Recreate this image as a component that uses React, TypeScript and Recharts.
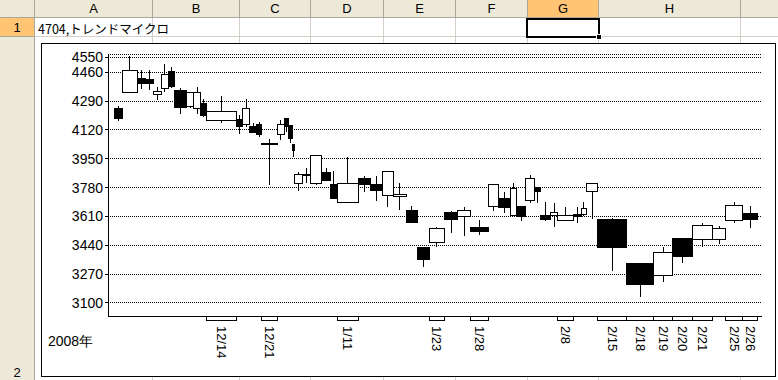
import React from 'react';
import { ComposedChart, Line, XAxis, YAxis, CartesianGrid, ReferenceArea, ReferenceLine } from 'recharts';

// daily prices, 2007/11/29 - 2008/02/26 (width of each candle = volume)
const dates = [
  '11/29', '11/30', '12/3', '12/4', '12/5', '12/6', '12/7', '12/10', '12/11', '12/12',
  '12/13', '12/14', '12/17', '12/18', '12/19', '12/20', '12/21', '12/25', '12/26', '12/27',
  '12/28', '1/4', '1/7', '1/8', '1/9', '1/10', '1/11', '1/15', '1/16', '1/17',
  '1/18', '1/21', '1/22', '1/23', '1/24', '1/25', '1/28', '1/29', '1/30', '1/31',
  '2/1', '2/4', '2/5', '2/6', '2/7', '2/8', '2/12', '2/13', '2/14', '2/15',
  '2/18', '2/19', '2/20', '2/21', '2/22', '2/25', '2/26',
];
const opens = [
  4248, 4342, 4424, 4420, 4330, 4366, 4467, 4355, 4257, 4248,
  4277, 4175, 4179, 4153, 4139, 4153, 4042, 4094, 4185, 4145,
  4036, 3806, 3853, 3806, 3871, 3800, 3694, 3835, 3800, 3735,
  3727, 3648, 3429, 3458, 3635, 3609, 3546, 3668, 3717, 3615,
  3668, 3703, 3782, 3615, 3613, 3585, 3619, 3623, 3756, 3595,
  3330, 3261, 3482, 3472, 3472, 3585, 3625,
];
const highs = [
  4261, 4556, 4473, 4473, 4375, 4507, 4493, 4366, 4345, 4371,
  4301, 4320, 4208, 4302, 4163, 4165, 4065, 4179, 4190, 4149,
  4038, 3871, 3894, 3968, 3894, 3878, 3962, 3849, 3849, 3876,
  3806, 3672, 3432, 3545, 3640, 3668, 3589, 3800, 3756, 3806,
  3670, 3855, 3785, 3697, 3688, 3664, 3664, 3694, 3804, 3598,
  3330, 3429, 3485, 3574, 3554, 3697, 3672,
];
const lows = [
  4173, 4340, 4361, 4356, 4297, 4346, 4369, 4212, 4248, 4212,
  4198, 4163, 4094, 4139, 4100, 4080, 3796, 4061, 4110, 4041,
  3963, 3760, 3806, 3796, 3818, 3710, 3694, 3756, 3701, 3668,
  3648, 3574, 3311, 3432, 3515, 3495, 3501, 3642, 3632, 3615,
  3585, 3691, 3691, 3585, 3546, 3585, 3570, 3615, 3594, 3291,
  3137, 3222, 3338, 3429, 3448, 3574, 3540,
];
const closes = [
  4185, 4469, 4393, 4395, 4344, 4450, 4375, 4251, 4342, 4342,
  4204, 4230, 4139, 4248, 4106, 4094, 4032, 4153, 4139, 4071,
  3998, 3855, 3857, 3968, 3821, 3713, 3806, 3800, 3762, 3876,
  3741, 3574, 3358, 3540, 3594, 3648, 3521, 3800, 3664, 3776,
  3609, 3835, 3756, 3594, 3635, 3615, 3609, 3658, 3802, 3426,
  3206, 3399, 3373, 3554, 3540, 3672, 3594,
];
const volumes = [
  83, 147, 80, 83, 80, 70, 60, 124, 66, 74,
  60, 300, 60, 66, 74, 46, 162, 68, 44, 36,
  24, 80, 80, 110, 86, 72, 208, 120, 120, 110,
  130, 107, 125, 148, 134, 126, 184, 100, 120, 60,
  90, 86, 60, 104, 66, 160, 77, 57, 106, 294,
  268, 192, 200, 196, 134, 166, 154,
];
const labeledDates = ['12/14', '12/21', '1/11', '1/23', '1/28', '2/8', '2/15', '2/18', '2/19', '2/20', '2/21', '2/25', '2/26'];
const yTicks = [3100, 3270, 3440, 3610, 3780, 3950, 4120, 4290, 4460, 4550];
const title = '4704,トレンドマイクロ';
const yearLabel = '2008年';

const columns = [
  { name: 'A', w: 118 },
  { name: 'B', w: 87 },
  { name: 'C', w: 71 },
  { name: 'D', w: 73 },
  { name: 'E', w: 72 },
  { name: 'F', w: 72 },
  { name: 'G', w: 71 },
  { name: 'H', w: 142 },
  { name: '', w: 100 },
];

let acc = 0;
const candles = dates.map((date, i) => {
  const start = acc;
  acc += volumes[i];
  return {
    date,
    open: opens[i],
    high: highs[i],
    low: lows[i],
    close: closes[i],
    start,
    end: acc,
    mid: start + volumes[i] / 2,
  };
});
const labeled = candles.filter((c) => labeledDates.includes(c.date));

const Y_MIN = 3023;
const Y_MAX = 4568;
const FONT = '"Liberation Sans", Arial, sans-serif';
const HEAD_BG = '#ECE9D8';
const HEAD_LINE = '#ACA899';
const GRID = '#D4D0C8';
const SEL = '#FFC474';

const XTick = (props: any) => {
  const { x, y, payload } = props;
  const c = labeled.find((d) => d.mid === payload.value);
  return (
    <g transform={`translate(${x},${y + 10}) rotate(90)`}>
      <text x={0} y={0} dominantBaseline="central" fontSize={13} fontFamily={FONT} fill="#000">
        {c ? c.date : ''}
      </text>
    </g>
  );
};

const Sheet = () => {
  let left = 35;
  const cols = columns.map((c) => {
    const el = { ...c, left };
    left += c.w;
    return el;
  });
  return (
    <>
      {/* corner */}
      <div style={{ position: 'absolute', left: 0, top: 0, width: 35, height: 18, background: HEAD_BG, boxSizing: 'border-box', borderRight: `1px solid ${HEAD_LINE}`, borderBottom: `1px solid ${HEAD_LINE}` }} />
      {cols.map((c, i) => (
        <div
          key={'h' + i}
          style={{
            position: 'absolute', left: c.left, top: 0, width: c.w, height: 18,
            background: c.name === 'G' ? SEL : HEAD_BG, boxSizing: 'border-box',
            borderRight: `1px solid ${HEAD_LINE}`, borderBottom: `1px solid ${HEAD_LINE}`,
            font: `13px ${FONT}`, textAlign: 'center', lineHeight: '18px', color: '#000',
          }}
        >
          {c.name}
        </div>
      ))}
      {cols.map((c, i) => (
        <div key={'v' + i} style={{ position: 'absolute', left: c.left + c.w - 1, top: 18, width: 1, height: 362, background: GRID }} />
      ))}
      <div style={{ position: 'absolute', left: 35, top: 36, width: 743, height: 1, background: GRID }} />
      {/* row headers */}
      <div style={{ position: 'absolute', left: 0, top: 18, width: 35, height: 19, background: SEL, boxSizing: 'border-box', borderRight: `1px solid ${HEAD_LINE}`, borderBottom: `1px solid ${HEAD_LINE}`, font: `13px ${FONT}`, textAlign: 'center', lineHeight: '19px' }}>1</div>
      <div style={{ position: 'absolute', left: 0, top: 37, width: 35, height: 343, background: HEAD_BG, boxSizing: 'border-box', borderRight: `1px solid ${HEAD_LINE}` }}>
        <div style={{ position: 'absolute', left: 0, top: 328, width: 34, textAlign: 'center', font: `13px ${FONT}` }}>2</div>
      </div>
      <div style={{ position: 'absolute', left: 38, top: 19, height: 18, lineHeight: '18px', font: `12.5px "Noto Sans CJK JP", ${FONT}`, color: '#000', whiteSpace: 'nowrap' }}>{title}</div>
      {/* selected cell G1 */}
      <div style={{ position: 'absolute', left: 526, top: 18, width: 74, height: 20, border: '2px solid #000', boxSizing: 'border-box' }} />
      <div style={{ position: 'absolute', left: 596, top: 34, width: 6, height: 6, background: '#000', border: '1px solid #fff', boxSizing: 'border-box' }} />
    </>
  );
};

export default function App() {
  return (
    <div style={{ position: 'absolute', left: 0, top: 0, width: 778, height: 380, overflow: 'hidden', background: '#fff' }}>
      <Sheet />
      <div style={{ position: 'absolute', left: 41, top: 43, width: 735, height: 334, border: '1px solid #000', boxSizing: 'border-box', background: '#fff' }}>
        <ComposedChart width={733} height={332} data={candles} margin={{ top: 10, right: 13, bottom: 0, left: 0 }}>
          <CartesianGrid vertical={false} stroke="#000" strokeDasharray="1 1" shapeRendering="crispEdges" />
          <XAxis
            type="number"
            dataKey="mid"
            domain={[-60, acc + 43]}
            allowDataOverflow
            ticks={labeled.map((c) => c.mid)}
            tick={<XTick />}
            tickLine={false}
            tickSize={0}
            tickMargin={0}
            height={60}
            axisLine={{ stroke: '#000', shapeRendering: 'crispEdges' }}
            interval={0}
          />
          <YAxis
            type="number"
            domain={[Y_MIN, Y_MAX]}
            allowDataOverflow
            ticks={yTicks}
            interval={0}
            width={66}
            tickSize={3}
            tickMargin={2}
            tick={{ fontSize: 14, fill: '#000', fontFamily: FONT }}
            axisLine={{ stroke: '#000', shapeRendering: 'crispEdges' }}
            tickLine={{ stroke: '#000', shapeRendering: 'crispEdges' }}
          />
          <Line dataKey="close" stroke="none" dot={false} activeDot={false} isAnimationActive={false} />
          {candles.map((c) => (
            <ReferenceLine
              key={'hw' + c.date}
              segment={[{ x: c.mid, y: c.high }, { x: c.mid, y: Math.max(c.open, c.close) }]}
              stroke="#000"
              strokeWidth={1}
              shapeRendering="crispEdges"
            />
          ))}
          {candles.map((c) => (
            <ReferenceLine
              key={'lw' + c.date}
              segment={[{ x: c.mid, y: Math.min(c.open, c.close) }, { x: c.mid, y: c.low }]}
              stroke="#000"
              strokeWidth={1}
              shapeRendering="crispEdges"
            />
          ))}
          {candles.map((c) => (
            <ReferenceArea
              key={'b' + c.date}
              x1={c.start}
              x2={c.end}
              y1={Math.min(c.open, c.close)}
              y2={Math.max(c.open, c.close)}
              fill={c.close >= c.open ? '#fff' : '#000'}
              fillOpacity={1}
              stroke="#000"
              strokeWidth={1}
              shapeRendering="crispEdges"
            />
          ))}
          {labeled.map((c) => (
            <ReferenceArea
              key={'t' + c.date}
              x1={c.start}
              x2={c.end}
              y1={Y_MIN - 28}
              y2={Y_MIN}
              ifOverflow="visible"
              fill="#fff"
              fillOpacity={1}
              stroke="#000"
              strokeWidth={1}
              shapeRendering="crispEdges"
            />
          ))}
        </ComposedChart>
        <div style={{ position: 'absolute', left: 6, top: 289, font: `14px ${FONT}`, color: '#000', whiteSpace: 'nowrap' }}>{yearLabel}</div>
      </div>
    </div>
  );
}
